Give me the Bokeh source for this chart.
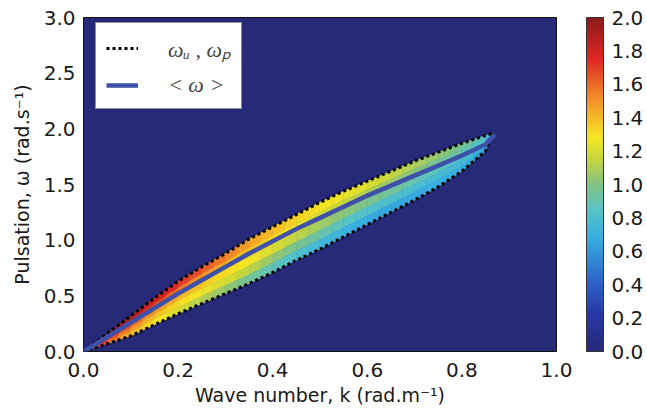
import numpy as np
from bokeh.plotting import figure
from bokeh.models import (ColumnDataSource, LinearColorMapper, ColorBar, FixedTicker,
                          NumeralTickFormatter, Legend, LegendItem)
from bokeh.embed import file_html
from bokeh.resources import INLINE

# ---------------- data ----------------
# edge curves omega_u (upper) and omega_p (lower)
k_nodes = [0.0, 0.05, 0.10, 0.15, 0.20, 0.25, 0.30, 0.35, 0.40, 0.45, 0.50,
           0.55, 0.60, 0.65, 0.70, 0.75, 0.80, 0.85, 0.865]
w_upper = [0.0, 0.16, 0.32, 0.48, 0.63, 0.76, 0.88, 1.01, 1.12, 1.23, 1.34,
           1.44, 1.53, 1.62, 1.71, 1.79, 1.87, 1.94, 1.96]
w_lower = [0.0, 0.07, 0.14, 0.24, 0.34, 0.43, 0.52, 0.61, 0.71, 0.82, 0.92,
           1.03, 1.14, 1.25, 1.36, 1.48, 1.62, 1.80, 1.96]
# mean pulsation <omega>
k_mean = [0.0, 0.05, 0.10, 0.15, 0.20, 0.25, 0.30, 0.35, 0.40, 0.45, 0.50,
          0.55, 0.60, 0.65, 0.70, 0.75, 0.80, 0.85, 0.87]
w_mean = [0.0, 0.13, 0.26, 0.39, 0.52, 0.64, 0.76, 0.88, 0.99, 1.10, 1.20,
          1.30, 1.40, 1.49, 1.58, 1.67, 1.76, 1.86, 1.95]

# heat-map cells: k bins, and 5 strips from omega_u (row 0) down to omega_p (row 4)
k_bin_edges = [round(0.025 * i, 3) for i in range(35)] + [0.865]
val_row0 = [1.98, 1.96, 1.93, 1.90, 1.87, 1.83, 1.79, 1.75, 1.70, 1.66, 1.61, 1.57,
            1.53, 1.49, 1.45, 1.41, 1.38, 1.35, 1.32, 1.30, 1.28, 1.26, 1.24, 1.22,
            1.20, 1.17, 1.14, 1.11, 1.08, 1.05, 1.02, 0.98, 0.94, 0.88, 0.75]
val_row1 = [1.95, 1.91, 1.86, 1.81, 1.76, 1.71, 1.66, 1.61, 1.56, 1.52, 1.48, 1.45,
            1.42, 1.39, 1.36, 1.33, 1.30, 1.27, 1.24, 1.21, 1.19, 1.16, 1.14, 1.12,
            1.10, 1.07, 1.05, 1.02, 1.00, 0.97, 0.95, 0.92, 0.89, 0.83, 0.70]
val_row2 = [1.90, 1.82, 1.74, 1.66, 1.59, 1.53, 1.48, 1.44, 1.41, 1.38, 1.35, 1.32,
            1.30, 1.28, 1.25, 1.22, 1.19, 1.15, 1.12, 1.09, 1.06, 1.03, 1.01, 0.99,
            0.97, 0.95, 0.93, 0.91, 0.89, 0.87, 0.86, 0.84, 0.82, 0.77, 0.65]
val_row3 = [1.85, 1.74, 1.64, 1.55, 1.48, 1.42, 1.37, 1.33, 1.30, 1.27, 1.24, 1.21,
            1.18, 1.15, 1.11, 1.07, 1.03, 0.99, 0.96, 0.93, 0.90, 0.87, 0.85, 0.83,
            0.82, 0.81, 0.80, 0.79, 0.78, 0.77, 0.76, 0.76, 0.75, 0.71, 0.60]
val_row4 = [1.80, 1.68, 1.56, 1.46, 1.38, 1.32, 1.27, 1.22, 1.18, 1.14, 1.10, 1.06,
            1.02, 0.98, 0.94, 0.90, 0.86, 0.83, 0.80, 0.77, 0.74, 0.72, 0.70, 0.68,
            0.67, 0.66, 0.66, 0.66, 0.67, 0.68, 0.69, 0.69, 0.68, 0.64, 0.55]
rows = [val_row0, val_row1, val_row2, val_row3, val_row4]

x_ticks = [0.0, 0.2, 0.4, 0.6, 0.8, 1.0]
y_ticks = [0.0, 0.5, 1.0, 1.5, 2.0, 2.5, 3.0]
cbar_ticks = [0.0, 0.2, 0.4, 0.6, 0.8, 1.0, 1.2, 1.4, 1.6, 1.8, 2.0]

# ---------------- muted "jet" palette ----------------
stops = [(0.0, (39, 42, 120)), (0.11, (40, 56, 165)), (0.2, (45, 95, 200)),
         (0.34, (55, 175, 225)), (0.42, (85, 195, 200)), (0.5, (130, 195, 130)),
         (0.58, (200, 215, 60)), (0.64, (245, 230, 35)), (0.75, (242, 150, 40)),
         (0.875, (225, 40, 36)), (1.0, (140, 26, 26))]
palette = []
for t in np.linspace(0, 1, 256):
    for (p0, c0), (p1, c1) in zip(stops[:-1], stops[1:]):
        if p0 <= t <= p1:
            f = (t - p0) / (p1 - p0)
            c = [int(round(a + f * (b - a))) for a, b in zip(c0, c1)]
            palette.append("#%02x%02x%02x" % tuple(c))
            break
mapper = LinearColorMapper(palette=palette, low=0.0, high=2.0)

# ---------------- build cell polygons ----------------
xs, ys, vals = [], [], []
nr = len(rows)
for j in range(len(k_bin_edges) - 1):
    ka, kb = k_bin_edges[j], k_bin_edges[j + 1]
    ua, ub = np.interp([ka, kb], k_nodes, w_upper)
    la, lb = np.interp([ka, kb], k_nodes, w_lower)
    for r, row in enumerate(rows):
        fa, fb = r / nr, (r + 1) / nr
        xs.append([ka, kb, kb, ka])
        ys.append([ua - fa * (ua - la), ub - fa * (ub - lb),
                   ub - fb * (ub - lb), ua - fb * (ua - la)])
        vals.append(row[j])
cells = ColumnDataSource(dict(xs=xs, ys=ys, val=vals))

p = figure(frame_width=473, frame_height=334, x_range=(0, 1), y_range=(0, 3),
           min_border_left=83, min_border_top=17, min_border_bottom=8, min_border_right=0,
           output_backend="svg", toolbar_location=None)
p.background_fill_color = palette[0]
p.border_fill_color = "white"
p.outline_line_color = "#111111"
p.outline_line_width = 1
p.grid.visible = False

p.patches("xs", "ys", source=cells,
          fill_color={"field": "val", "transform": mapper},
          line_color={"field": "val", "transform": mapper}, line_width=0.6)

dot_up = p.line(k_nodes, w_upper, line_color="black", line_width=3, line_dash="3 3")
dot_lo = p.line(k_nodes, w_lower, line_color="black", line_width=3, line_dash="3 3")
mean_line = p.line(k_mean, w_mean, line_color="#3d50aa", line_width=4.5)

legend = Legend(items=[LegendItem(label="ωᵤ , ωₚ", renderers=[dot_up]),
                       LegendItem(label="< ω >", renderers=[mean_line])],
                location=(12, 242), glyph_width=32, glyph_height=20, spacing=9,
                padding=10, margin=0, label_standoff=30,
                label_text_font="Liberation Serif", label_text_font_style="italic",
                label_text_font_size="22px", border_line_color="#222222",
                border_line_width=1, background_fill_color="white", background_fill_alpha=1)
p.add_layout(legend, "center")

for ax in (p.xaxis[0], p.yaxis[0]):
    ax.major_label_text_font = "DejaVu Sans"
    ax.major_label_text_font_size = "20px"
    ax.major_label_text_color = "#1a1a1a"
    ax.axis_label_text_font = "DejaVu Sans"
    ax.axis_label_text_font_size = "19px"
    ax.axis_label_text_font_style = "normal"
    ax.axis_label_text_color = "#1a1a1a"
    ax.major_tick_line_color = None
    ax.minor_tick_line_color = None
    ax.axis_line_color = None
    ax.major_tick_out = 0
    ax.formatter = NumeralTickFormatter(format="0.0")
p.xaxis.ticker = FixedTicker(ticks=x_ticks)
p.yaxis.ticker = FixedTicker(ticks=y_ticks)
p.xaxis.major_label_standoff = 11
p.yaxis.major_label_standoff = 8
p.xaxis.axis_label = "Wave number, k (rad.m⁻¹)"
p.yaxis.axis_label = "Pulsation, ω (rad.s⁻¹)"
p.xaxis.axis_label_standoff = 4
p.yaxis.axis_label_standoff = 8

cbar = ColorBar(color_mapper=mapper, width=17, height=334, padding=0, margin=0,
                location=(30, 0), label_standoff=8,
                ticker=FixedTicker(ticks=cbar_ticks),
                formatter=NumeralTickFormatter(format="0.0"),
                major_label_text_font="DejaVu Sans", major_label_text_font_size="20px",
                major_label_text_color="#1a1a1a",
                major_tick_line_color=None, minor_tick_line_color=None,
                bar_line_color="#333333", bar_line_width=1,
                background_fill_alpha=0, border_line_color=None)
p.add_layout(cbar, "right")

open("out.html", "w").write(file_html(p, INLINE))
